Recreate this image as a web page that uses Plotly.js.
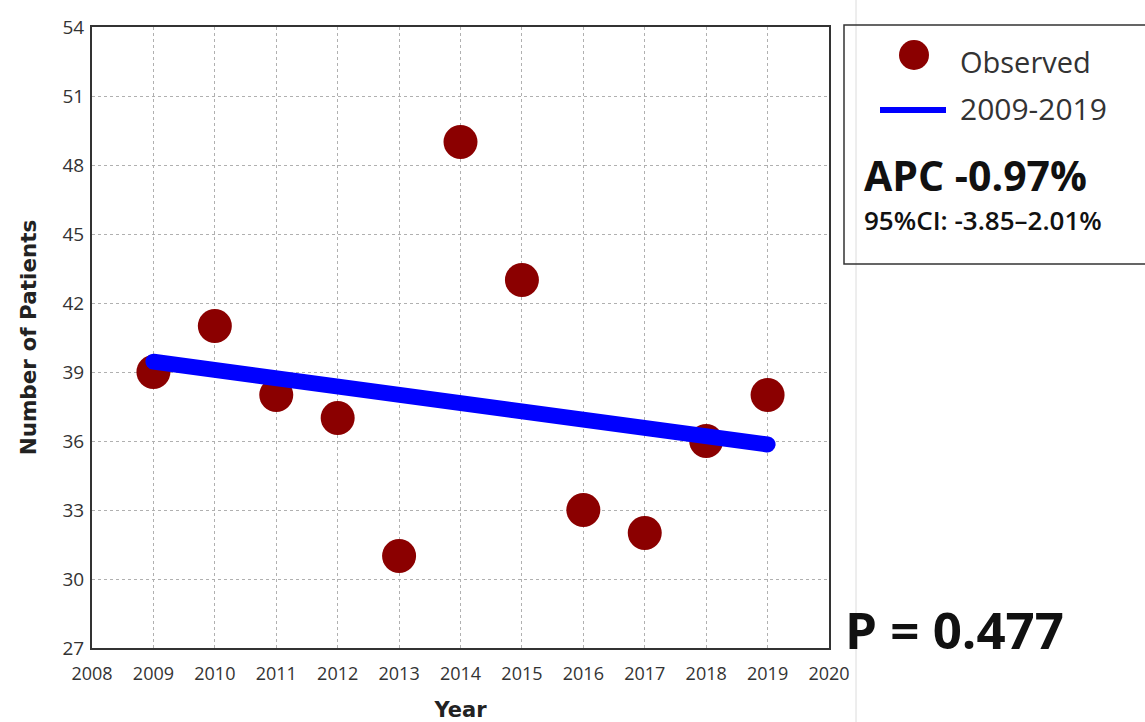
<!DOCTYPE html>
<html>
<head>
<meta charset="utf-8">
<script src="https://cdn.plot.ly/plotly-3.0.1.min.js"></script>
<style>
html,body{margin:0;padding:0;background:#fff;}
#chart{width:1145px;height:722px;}
.js-line{stroke-linecap:round;}
</style>
</head>
<body>
<div id="chart"></div>
<script>
const years = [2009, 2010, 2011, 2012, 2013, 2014, 2015, 2016, 2017, 2018, 2019];
const observed = [39, 41, 38, 37, 31, 49, 43, 33, 32, 36, 38];
const fitted = [39.45, 39.09, 38.73, 38.37, 38.01, 37.65, 37.29, 36.93, 36.57, 36.21, 35.85];
const xTicks = [2008, 2009, 2010, 2011, 2012, 2013, 2014, 2015, 2016, 2017, 2018, 2019, 2020];
const yTicks = [27, 30, 33, 36, 39, 42, 45, 48, 51, 54];
const seriesNames = ['Observed', '2009-2019'];
const apcText = 'APC -0.97%';
const ciText = '95%CI: -3.85–2.01%';
const pText = 'P = 0.477';

const font = '"Open Sans", "Noto Sans", "DejaVu Sans", sans-serif';
const titleFont = '"DejaVu Sans", Verdana, sans-serif';
const markerColor = '#8B0000';
const lineColor = '#0000FF';

const traces = [
  {
    x: years, y: observed, name: seriesNames[0], type: 'scatter', mode: 'markers',
    marker: {color: markerColor, size: 34, line: {width: 0}}
  },
  {
    x: years, y: fitted, name: seriesNames[1], type: 'scatter', mode: 'lines',
    line: {color: lineColor, width: 16}
  }
];

const W = 1145, H = 722, L = 92, R = 829, T = 27, B = 648;
const px = v => (v - L) / (R - L);
const py = v => (B - v) / (B - T);

const layout = {
  width: W, height: H,
  margin: {l: L, r: W - R, t: T, b: H - B},
  paper_bgcolor: '#fff', plot_bgcolor: '#fff',
  font: {family: font, color: '#222'},
  showlegend: false,
  xaxis: {
    range: [2008, 2020], tickvals: xTicks, ticktext: xTicks.map(String),
    showgrid: true, gridcolor: '#b0b0b0', griddash: 'dot', gridwidth: 1,
    showline: true, linecolor: '#333', linewidth: 2, mirror: true,
    ticks: '', zeroline: false, ticklabelstandoff: 8,
    tickfont: {size: 18, color: '#333', family: font},
    title: {text: '<b>Year</b>', font: {size: 21, color: '#222', family: titleFont}, standoff: 20}
  },
  yaxis: {
    range: [27, 54], tickvals: yTicks, ticktext: yTicks.map(String),
    showgrid: true, gridcolor: '#b0b0b0', griddash: 'dot', gridwidth: 1,
    showline: true, linecolor: '#333', linewidth: 2, mirror: true,
    ticks: '', zeroline: false, ticklabelstandoff: 2,
    tickfont: {size: 19, color: '#333', family: font},
    title: {text: '<b>Number of Patients</b>', font: {size: 21.5, color: '#222', family: titleFont}, standoff: 20}
  },
  shapes: [
    {type: 'line', xref: 'paper', yref: 'paper', x0: px(856), x1: px(856), y0: py(0), y1: py(722),
     line: {color: '#dcdcdc', width: 1}},
    {type: 'rect', xref: 'paper', yref: 'paper', x0: px(844), x1: px(1146), y0: py(25), y1: py(264),
     line: {color: '#333', width: 1.5}, fillcolor: 'rgba(0,0,0,0)'},
    {type: 'circle', xref: 'paper', yref: 'paper', x0: px(899), x1: px(929), y0: py(40), y1: py(70),
     line: {width: 0}, fillcolor: markerColor},
    {type: 'line', xref: 'paper', yref: 'paper', x0: px(880), x1: px(946), y0: py(110), y1: py(110),
     line: {color: lineColor, width: 6}}
  ],
  annotations: [
    {xref: 'paper', yref: 'paper', x: px(958), y: py(61), xanchor: 'left', yanchor: 'middle',
     text: seriesNames[0], showarrow: false, font: {size: 29, color: '#333', family: font}},
    {xref: 'paper', yref: 'paper', x: px(958), y: py(108), xanchor: 'left', yanchor: 'middle',
     text: seriesNames[1], showarrow: false, font: {size: 30, color: '#333', family: font}},
    {xref: 'paper', yref: 'paper', x: px(862), y: py(175), xanchor: 'left', yanchor: 'middle',
     text: '<b>' + apcText + '</b>', showarrow: false, font: {size: 41, color: '#111', family: font}},
    {xref: 'paper', yref: 'paper', x: px(862), y: py(220), xanchor: 'left', yanchor: 'middle',
     text: ciText, showarrow: false, font: {size: 26, color: '#111', family: font, weight: 600}},
    {xref: 'paper', yref: 'paper', x: px(843), y: py(629), xanchor: 'left', yanchor: 'middle',
     text: '<b>' + pText + '</b>', showarrow: false, font: {size: 51, color: '#111', family: font}}
  ]
};

Plotly.newPlot('chart', traces, layout, {staticPlot: true, displayModeBar: false});
</script>
</body>
</html>
